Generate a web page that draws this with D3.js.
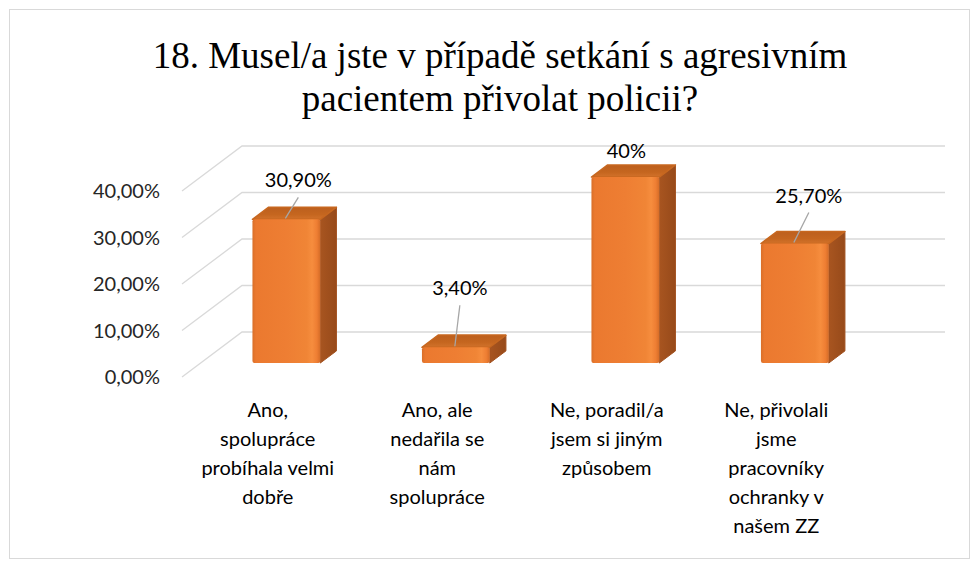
<!DOCTYPE html>
<html>
<head>
<meta charset="utf-8">
<script src="https://cdn.jsdelivr.net/npm/d3@7"></script>
<style>
  body { margin: 0; background: #fff; }
  text { font-family: Lato, "Noto Sans", sans-serif; fill: #000; }
</style>
</head>
<body>
<div id="chart"></div>
<script>
// data
const categories = [
  "Ano,\nspolupráce\nprobíhala velmi\ndobře",
  "Ano, ale\nnedařila se\nnám\nspolupráce",
  "Ne, poradil/a\njsem si jiným\nzpůsobem",
  "Ne, přivolali\njsme\npracovníky\nochranky v\nnašem ZZ",
];
const values = [0.309, 0.034, 0.4, 0.257];
const valueLabels = ["30,90%", "3,40%", "40%", "25,70%"];
const tickValues = [0, 0.1, 0.2, 0.3, 0.4];
const titleLines = [
  "18. Musel/a jste v případě setkání s agresivním",
  "pacientem přivolat policii?",
];

// layout (manual label placement, like in the original)
const labelOffsets = [
  [12, -32, true],
  [4, -52, true],
  [1, -19, false],
  [14, -41, true],
];

const width = 980;
const height = 568;
const depthX = 60;   // shift of the back wall
const depthY = -45;
const barD0 = 0.31;  // bar front depth
const barD1 = 0.58;  // bar back depth
const plotLeft = 182;
const plotRight = 885;

const cz = d3.formatLocale({ decimal: ",", thousands: " ", grouping: [3], currency: ["", " Kč"] });
const tickFormat = cz.format(".2%");

const svg = d3.select("#chart").append("svg")
  .attr("width", width)
  .attr("height", height);

// gradients
const defs = svg.append("defs");
const gFront = defs.append("linearGradient").attr("id", "gFront");
[[0, "#D96F29"], [0.05, "#EB792F"], [0.5, "#EE7E33"], [0.8, "#F08536"], [0.88, "#F68D3E"], [0.95, "#EE7E33"], [1, "#D56C27"]]
  .forEach(s => gFront.append("stop").attr("offset", s[0]).attr("stop-color", s[1]));
const gSide = defs.append("linearGradient").attr("id", "gSide");
[[0, "#A85520"], [1, "#974A1A"]]
  .forEach(s => gSide.append("stop").attr("offset", s[0]).attr("stop-color", s[1]));
const gTop = defs.append("linearGradient").attr("id", "gTop").attr("x1", 0).attr("y1", 1).attr("x2", 0).attr("y2", 0);
[[0, "#D2722B"], [0.4, "#C5661F"], [1, "#BC5F1E"]]
  .forEach(s => gTop.append("stop").attr("offset", s[0]).attr("stop-color", s[1]));

// frame
svg.append("rect")
  .attr("x", 9.5).attr("y", 9.5)
  .attr("width", 960).attr("height", 549)
  .attr("fill", "#fff")
  .attr("stroke", "#D9D9D9")
  .attr("stroke-width", 1);

// title
svg.append("g").selectAll("text")
  .data(titleLines)
  .join("text")
  .attr("x", 500)
  .attr("y", (d, i) => 68 + i * 43)
  .attr("text-anchor", "middle")
  .style("font-family", "'Liberation Serif', 'Times New Roman', serif")
  .style("font-size", "37px")
  .style("fill", "#000")
  .text(d => d);

// scales
const y = d3.scaleLinear().domain([0, 0.4]).range([377, 191]);
const x = d3.scaleBand()
  .domain(categories)
  .range([183, 861])
  .paddingInner(0.6)
  .paddingOuter(0.3);

function proj(px, v, d) {
  return [px + depthX * d, y(v) + depthY * d];
}

// gridlines (side wall + back wall)
const grid = svg.append("g").attr("fill", "none").attr("stroke", "#D9D9D9").attr("stroke-width", 1.3);
tickValues.forEach(t => {
  const a = proj(plotLeft, t, 0);
  const b = proj(plotLeft, t, 1);
  const c = proj(plotRight, t, 1);
  grid.append("path").attr("d", d3.line()([a, b, c]));
});

// y tick labels
svg.append("g").selectAll("text")
  .data(tickValues)
  .join("text")
  .attr("x", 160)
  .attr("y", d => y(d))
  .attr("dy", "0.35em")
  .attr("text-anchor", "end")
  .style("font-size", "20px")
  .style("fill", "#262626")
  .text(d => tickFormat(d));

// bars
const bars = svg.append("g").selectAll("g")
  .data(categories)
  .join("g");

const poly = pts => d3.line()(pts) + "Z";

bars.append("path")
  .attr("d", (c, i) => {
    const xr = x(c) + x.bandwidth(), v = values[i];
    return poly([proj(xr, 0, barD0), proj(xr, v, barD0), proj(xr, v, barD1), proj(xr, 0, barD1)]);
  })
  .attr("fill", "url(#gSide)")
  .attr("stroke", "#A35220")
  .attr("stroke-width", 1)
  .attr("stroke-linejoin", "round");

bars.append("path")
  .attr("d", (c, i) => {
    const xl = x(c), xr = x(c) + x.bandwidth(), v = values[i];
    return poly([proj(xl, v, barD0), proj(xr, v, barD0), proj(xr, v, barD1), proj(xl, v, barD1)]);
  })
  .attr("fill", "url(#gTop)")
  .attr("stroke", "#C7671F")
  .attr("stroke-width", 1.5)
  .attr("stroke-linejoin", "round");

bars.append("rect")
  .attr("x", c => proj(x(c), 0, barD0)[0])
  .attr("y", (c, i) => proj(x(c), values[i], barD0)[1])
  .attr("width", x.bandwidth())
  .attr("height", (c, i) => y(0) - y(values[i]))
  .attr("rx", 2)
  .attr("fill", "url(#gFront)");

// value labels + leader lines
const topPt = i => proj(x(categories[i]) + x.bandwidth() / 2, values[i], barD0);

svg.append("g").selectAll("line")
  .data(categories.filter((c, i) => labelOffsets[i][2]))
  .join("line")
  .each(function (c) {
    const i = categories.indexOf(c);
    const p = topPt(i);
    const o = labelOffsets[i];
    d3.select(this)
      .attr("x1", p[0] + o[0]).attr("y1", p[1] + o[1] + 10)
      .attr("x2", p[0] - 1).attr("y2", p[1] - 1);
  })
  .attr("stroke", "#A6A6A6")
  .attr("stroke-width", 1.3);

svg.append("g").selectAll("text")
  .data(valueLabels)
  .join("text")
  .attr("x", (d, i) => topPt(i)[0] + labelOffsets[i][0])
  .attr("y", (d, i) => topPt(i)[1] + labelOffsets[i][1])
  .attr("text-anchor", "middle")
  .style("font-size", "20px")
  .style("fill", "#000")
  .text(d => d);

// category labels
svg.append("g").selectAll("text")
  .data(categories)
  .join("text")
  .attr("x", c => x(c) + x.bandwidth() / 2)
  .attr("y", 417)
  .attr("text-anchor", "middle")
  .style("font-size", "20px")
  .style("fill", "#000")
  .each(function (c) {
    const t = d3.select(this);
    c.split("\n").forEach((line, k) => {
      t.append("tspan")
        .attr("x", x(c) + x.bandwidth() / 2)
        .attr("y", 417 + k * 29)
        .text(line);
    });
  });
</script>
</body>
</html>
